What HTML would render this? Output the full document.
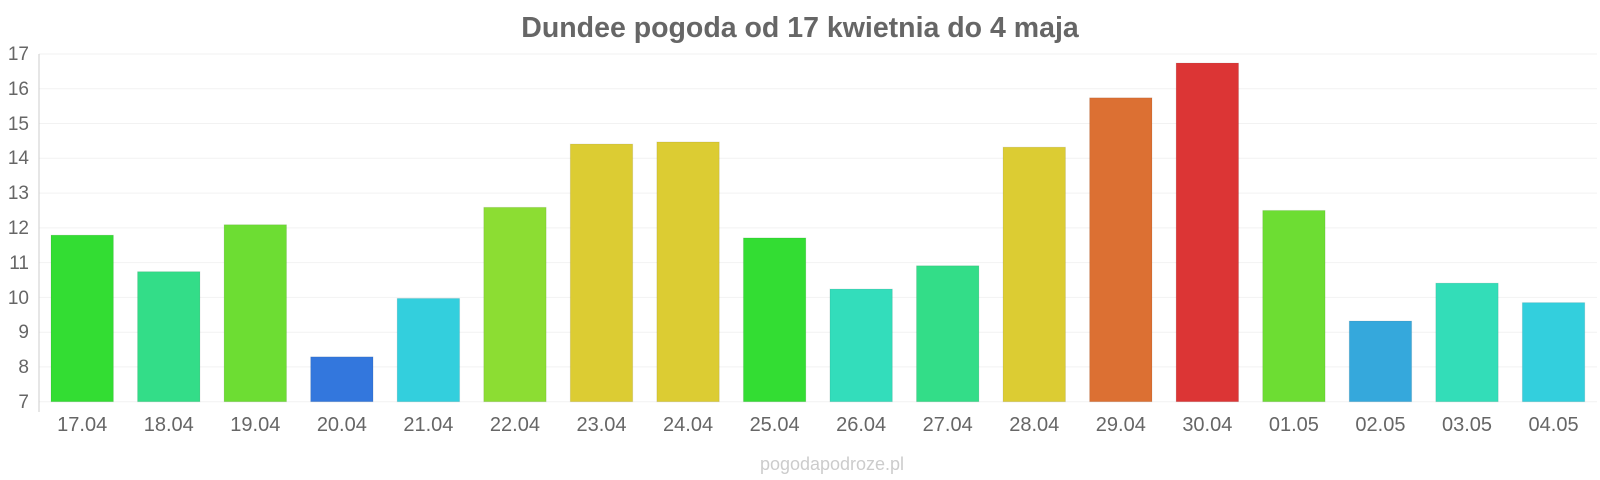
<!DOCTYPE html>
<html><head><meta charset="utf-8"><style>body{margin:0;background:#fff}svg{display:block}</style></head><body>
<svg width="1600" height="480" xmlns="http://www.w3.org/2000/svg" font-family="Liberation Sans, sans-serif">
<text x="800" y="37" text-anchor="middle" font-size="28.5" font-weight="bold" fill="#666">Dundee pogoda od 17 kwietnia do 4 maja</text>
<g stroke="#f2f2f2" stroke-width="1">
<line x1="39" x2="1597" y1="54" y2="54"/><line x1="39" x2="1597" y1="88.8" y2="88.8"/><line x1="39" x2="1597" y1="123.5" y2="123.5"/><line x1="39" x2="1597" y1="158.3" y2="158.3"/><line x1="39" x2="1597" y1="193.1" y2="193.1"/><line x1="39" x2="1597" y1="227.9" y2="227.9"/><line x1="39" x2="1597" y1="262.6" y2="262.6"/><line x1="39" x2="1597" y1="297.4" y2="297.4"/><line x1="39" x2="1597" y1="332.2" y2="332.2"/><line x1="39" x2="1597" y1="366.9" y2="366.9"/><line x1="39" x2="1597" y1="401.7" y2="401.7"/>
</g>
<line x1="39" x2="39" y1="54" y2="412" stroke="#ccc"/>
<g font-size="19" fill="#666" text-anchor="end">
<text x="29" y="60">17</text><text x="29" y="95">16</text><text x="29" y="130">15</text><text x="29" y="164">14</text><text x="29" y="199">13</text><text x="29" y="234">12</text><text x="29" y="269">11</text><text x="29" y="304">10</text><text x="29" y="338">9</text><text x="29" y="373">8</text><text x="29" y="408">7</text>
</g>
<g stroke="rgba(0,0,0,0.08)">
<rect x="51" y="235.15" width="62.4" height="166.55" fill="#33dd33"/>
<rect x="137.55" y="271.66" width="62.4" height="130.04" fill="#33dd88"/>
<rect x="224.1" y="224.72" width="62.4" height="176.98" fill="#6ddd33"/>
<rect x="310.65" y="356.85" width="62.4" height="44.85" fill="#3377dd"/>
<rect x="397.2" y="298.43" width="62.4" height="103.27" fill="#33cfdd"/>
<rect x="483.75" y="207.34" width="62.4" height="194.36" fill="#8cdd33"/>
<rect x="570.3" y="144.05" width="62.4" height="257.65" fill="#dccc33"/>
<rect x="656.85" y="141.97" width="62.4" height="259.73" fill="#dccc33"/>
<rect x="743.4" y="237.93" width="62.4" height="163.77" fill="#33dd33"/>
<rect x="829.95" y="289.05" width="62.4" height="112.65" fill="#33ddbb"/>
<rect x="916.5" y="265.75" width="62.4" height="135.95" fill="#33dd88"/>
<rect x="1003.05" y="147.18" width="62.4" height="254.52" fill="#dccc33"/>
<rect x="1089.6" y="97.81" width="62.4" height="303.89" fill="#dc7033"/>
<rect x="1176.15" y="63.04" width="62.4" height="338.66" fill="#dc3535"/>
<rect x="1262.7" y="210.46" width="62.4" height="191.24" fill="#6ddd33"/>
<rect x="1349.25" y="321.03" width="62.4" height="80.67" fill="#35a8dc"/>
<rect x="1435.8" y="283.13" width="62.4" height="118.57" fill="#33ddb8"/>
<rect x="1522.35" y="302.61" width="62.4" height="99.09" fill="#33cfdd"/>
</g>
<g font-size="20" fill="#666" text-anchor="middle">
<text x="82.2" y="431">17.04</text><text x="168.75" y="431">18.04</text><text x="255.3" y="431">19.04</text><text x="341.85" y="431">20.04</text><text x="428.4" y="431">21.04</text><text x="514.95" y="431">22.04</text><text x="601.5" y="431">23.04</text><text x="688.05" y="431">24.04</text><text x="774.6" y="431">25.04</text><text x="861.15" y="431">26.04</text><text x="947.7" y="431">27.04</text><text x="1034.25" y="431">28.04</text><text x="1120.8" y="431">29.04</text><text x="1207.35" y="431">30.04</text><text x="1293.9" y="431">01.05</text><text x="1380.45" y="431">02.05</text><text x="1467" y="431">03.05</text><text x="1553.55" y="431">04.05</text>
</g>
<text x="832" y="470" text-anchor="middle" font-size="18" fill="#ccc">pogodapodroze.pl</text>
</svg>
</body></html>
